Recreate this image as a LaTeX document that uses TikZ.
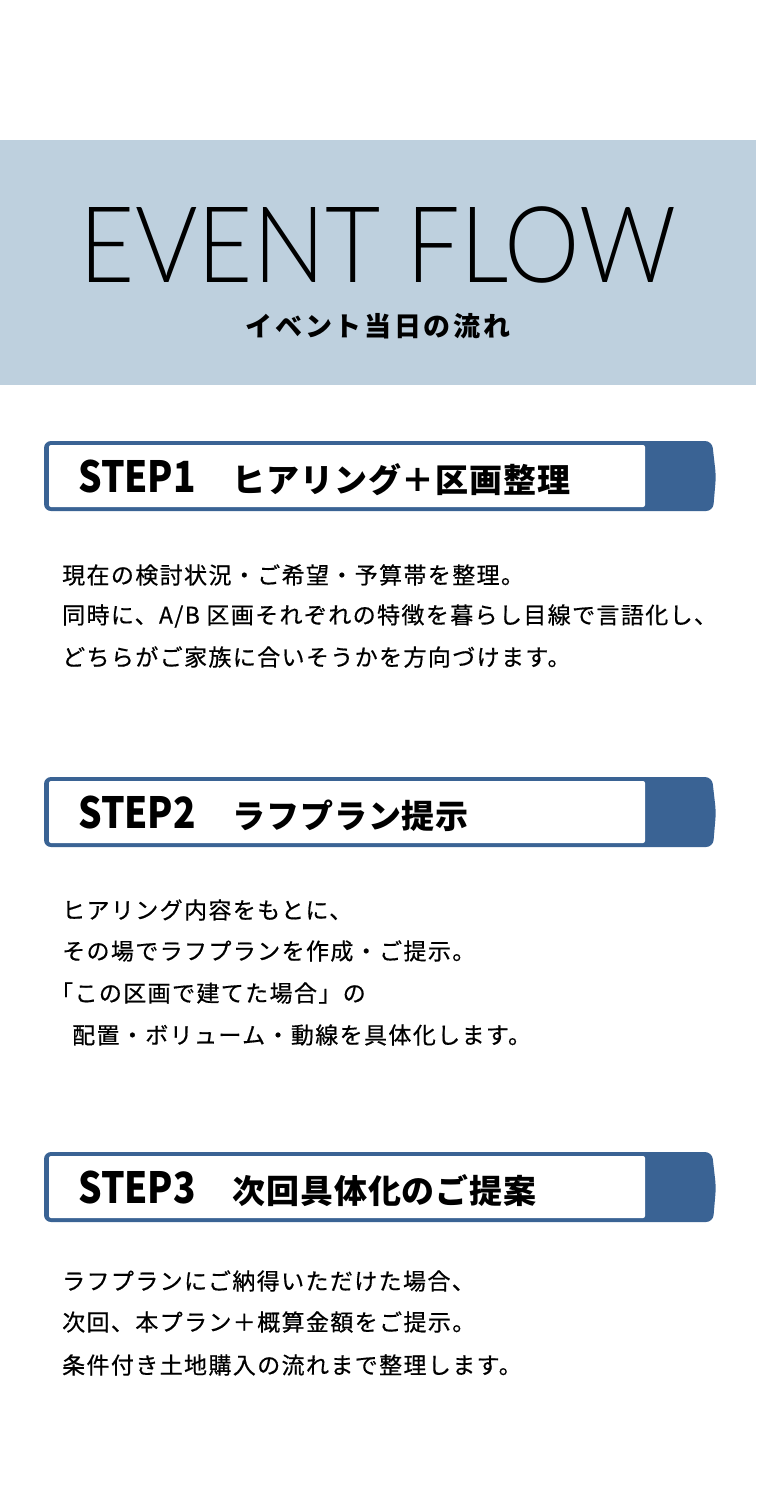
\documentclass[tikz,border=0pt]{standalone}
\usepackage{fontspec}
\usepackage{tikz}
\setmainfont{Noto Sans CJK JP}
\newfontfamily\bodyfont{Noto Sans CJK JP}[LetterSpace=6,FakeBold=0.5]
\newfontfamily\headfont{Noto Sans CJK JP}[LetterSpace=2.5]
\newfontfamily\subfont{Noto Sans CJK JP}[LetterSpace=10]
\newfontfamily\thinfont{Lato Light}
\definecolor{bandblue}{RGB}{190,208,222}
\definecolor{stepblue}{RGB}{58,99,148}
\newcommand{\stepnum}[1]{\scalebox{0.86}[1]{\fontsize{43}{43}\selectfont\addfontfeature{LetterSpace=0}#1}\hspace{37pt}}
\tikzset{
	titletext/.style={inner sep=0pt, xscale=0.9, font=\thinfont\fontsize{106}{106}\selectfont},
	subtext/.style={inner sep=0pt, font=\subfont\bfseries\fontsize{27}{27}\selectfont},
	stephead/.style={anchor=base west, inner sep=0pt, font=\headfont\bfseries\fontsize{33}{33}\selectfont},
	bodytext/.style={anchor=west, inner sep=0pt, font=\bodyfont\fontsize{23}{23}\selectfont}
}

\begin{document}
\begin{tikzpicture}[x=1pt,y=-1pt]
	\useasboundingbox[fill=white] (0,0) rectangle (756,1500);
	\fill[bandblue] (0,140) rectangle (756,385);
	\node[titletext] (title) at (378,245) {EVENT FLOW};
	\node[subtext] (subtitle) at (378,326) {イベント当日の流れ};
	% step boxes
	\foreach \t in {441,777,1152} {
		\fill[stepblue, rounded corners=7pt] (44,\t) -- (712,\t) -- (716,\t+35) -- (713,\t+70) -- (44,\t+70) -- cycle;
		\fill[white, rounded corners=2pt] (49,\t+4) rectangle (645,\t+66);
	}
	\node[stephead] (step1) at (78,492) {\stepnum{STEP1}ヒアリング＋区画整理};
	\node[stephead] (step2) at (78,828) {\stepnum{STEP2}ラフプラン提示};
	\node[stephead] (step3) at (78,1203) {\stepnum{STEP3}次回具体化のご提案};
	% step 1
	\node[bodytext] (s1a) at (62,575) {現在の検討状況・ご希望・予算帯を整理。};
	\node[bodytext] (s1b) at (62,616) {同時に、A/B 区画それぞれの特徴を暮らし目線で言語化し、};
	\node[bodytext] (s1c) at (62,657) {どちらがご家族に合いそうかを方向づけます。};
	% step 2
	\node[bodytext] (s2a) at (62,910) {ヒアリング内容をもとに、};
	\node[bodytext] (s2b) at (62,951) {その場でラフプランを作成・ご提示。};
	\node[bodytext] (s2c) at (50,993) {「この区画で建てた場合」の};
	\node[bodytext] (s2d) at (72,1035) {配置・ボリューム・動線を具体化します。};
	% step 3
	\node[bodytext] (s3a) at (62,1281) {ラフプランにご納得いただけた場合、};
	\node[bodytext] (s3b) at (62,1322) {次回、本プラン＋概算金額をご提示。};
	\node[bodytext] (s3c) at (62,1365) {条件付き土地購入の流れまで整理します。};
\end{tikzpicture}
\end{document}
